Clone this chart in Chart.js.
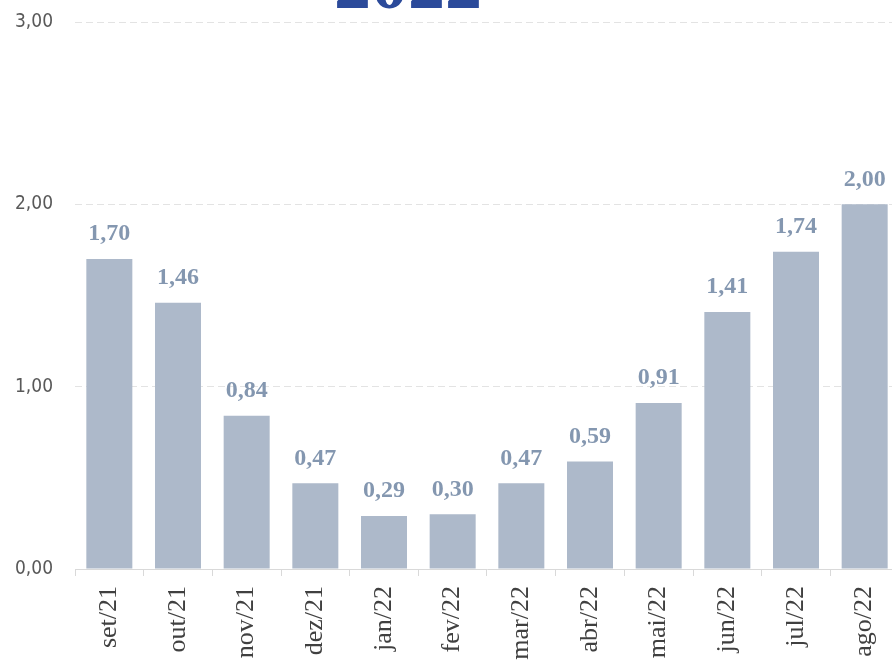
<!DOCTYPE html>
<html>
<head>
<meta charset="utf-8">
<script src="https://cdn.jsdelivr.net/npm/chart.js@4.4.1/dist/chart.umd.min.js"></script>
<style>
  html, body { margin: 0; padding: 0; background: #ffffff; overflow: hidden; width: 892px; height: 667px; }
  #wrap { position: absolute; left: 0; top: 0; width: 910px; height: 700px; }
</style>
</head>
<body>
<div id="wrap"><canvas id="c" width="910" height="700"></canvas></div>
<script>
const categories = ['set/21', 'out/21', 'nov/21', 'dez/21', 'jan/22', 'fev/22', 'mar/22', 'abr/22', 'mai/22', 'jun/22', 'jul/22', 'ago/22'];
const values = [1.70, 1.46, 0.84, 0.47, 0.29, 0.30, 0.47, 0.59, 0.91, 1.41, 1.74, 2.00];
const yTicks = [0, 1, 2, 3];
const titleText = '2022';

const SERIF = '"Liberation Serif", "Times New Roman", serif';
const NARROW = '"Liberation Sans Narrow", "Arial Narrow", "DejaVu Sans Condensed", sans-serif';

const fmt = v => v.toFixed(2).replace('.', ',');

const labelPlugin = {
  id: 'valueLabels',
  afterDatasetsDraw(chart) {
    const ctx = chart.ctx;
    const meta = chart.getDatasetMeta(0);
    ctx.save();
    ctx.font = 'bold 24px ' + SERIF;
    ctx.fillStyle = '#8497B0';
    ctx.textAlign = 'center';
    ctx.textBaseline = 'middle';
    meta.data.forEach((bar, i) => {
      ctx.fillText(fmt(values[i]), bar.x, bar.y - 25);
    });
    ctx.restore();
  }
};

const titlePlugin = {
  id: 'cutTitle',
  afterDraw(chart) {
    const ctx = chart.ctx;
    ctx.save();
    ctx.font = 'bold 74px ' + SERIF;
    ctx.fillStyle = '#2B4A9A';
    ctx.textAlign = 'center';
    ctx.textBaseline = 'alphabetic';
    ctx.fillText(titleText, 408, 8);
    ctx.restore();
  }
};

function draw() {
  new Chart(document.getElementById('c'), {
    type: 'bar',
    data: {
      labels: categories,
      datasets: [{
        data: values,
        backgroundColor: '#ADB9CA',
        borderWidth: 0,
        barPercentage: 0.67,
        categoryPercentage: 1.0
      }]
    },
    options: {
      responsive: false,
      animation: false,
      layout: { padding: { top: 22, right: 11, left: 0, bottom: 0 } },
      plugins: { legend: { display: false }, tooltip: { enabled: false }, title: { display: false } },
      scales: {
        x: {
          offset: true,
          grid: { display: true, drawOnChartArea: false, drawTicks: true, tickLength: 7, color: '#D9D9D9', offset: true },
          border: { display: true, color: '#D9D9D9', width: 1 },
          ticks: {
            autoSkip: false, minRotation: 90, maxRotation: 90, padding: 10,
            color: '#404040',
            font: { family: SERIF, size: 26 }
          },
          afterFit(axis) { axis.height = 131; axis.paddingLeft = 0; axis.paddingRight = 0; }
        },
        y: {
          min: 0, max: 3,
          afterBuildTicks(axis) { axis.ticks = yTicks.map(v => ({ value: v })); },
          grid: {
            drawTicks: false,
            color: ctx => (ctx.tick && ctx.tick.value === 0) ? 'rgba(0,0,0,0)' : '#E3E3E3',
            lineWidth: 1
          },
          border: { display: false, dash: [7, 4] },
          ticks: {
            padding: 22,
            color: '#595959',
            font: { family: NARROW, size: 19 },
            callback: v => fmt(v)
          },
          afterFit(axis) { axis.width = 75; axis.paddingTop = 0; axis.paddingBottom = 0; }
        }
      }
    },
    plugins: [labelPlugin, titlePlugin]
  });
}

const loads = [
  '26px "Liberation Serif"', 'bold 24px "Liberation Serif"', 'bold 74px "Liberation Serif"',
  '19px "Liberation Sans Narrow"'
].map(f => document.fonts.load(f, '0123456789,/abcdefghijklmnopqrstuvwxyz').catch(() => null));
Promise.all(loads).then(draw, draw);
</script>
</body>
</html>
